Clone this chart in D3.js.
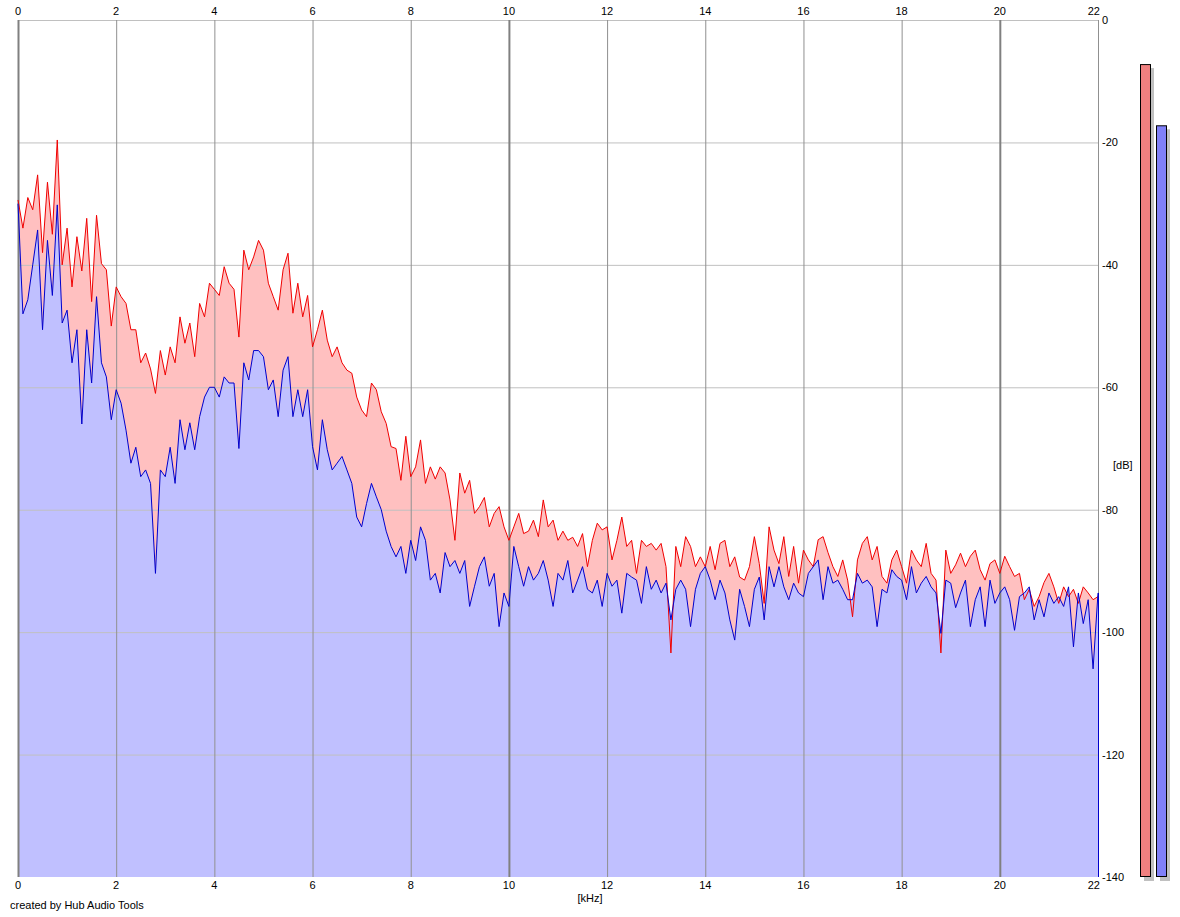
<!DOCTYPE html>
<html lang='en'>
<head>
  <meta charset='UTF-8'>
  <title>Spectrum</title>
  <script src='https://d3js.org/d3.v7.min.js'></script>
  <style>
    body { margin: 0; background: #fff; }
    #main { width: 1180px; height: 917px; }
    text { font-family: 'Liberation Sans', Arial, sans-serif; font-size: 11px; fill: #000; }
  </style>
</head>
<body>
<div id='main'></div>
<script>
  // frequency bins, kHz (one every 0.1 kHz)
  const freqs = d3.range(0, 221).map(i => i / 10)
  // left channel (red), dB
  const leftDb = [
    -29.4, -34, -29, -31, -25.3, -38, -26.5, -35, -19.6, -40,
    -34, -43.6, -35.4, -41, -32.4, -46, -31.9, -39.8, -40.8, -50,
    -43.6, -45.2, -46.3, -50.6, -50.6, -56, -54.4, -57, -61, -54,
    -58, -53.4, -56, -48.5, -52.8, -49.5, -55, -46.3, -48.5, -43,
    -44, -45, -40.3, -43, -44, -51.8, -37.6, -40.8, -38.7, -36,
    -37.6, -43, -45.2, -47.4, -40.8, -38.1, -47.9, -43, -48.5, -45,
    -53.4, -50.6, -47.4, -52.3, -55, -53.4, -56, -57.2, -57.7, -61.6,
    -63.7, -64.8, -59.3, -60.4, -64, -65.9, -69.7, -70, -75.2, -68,
    -74.6, -73, -68.6, -75.7, -73, -75, -73, -74, -78.4, -85,
    -74, -77.3, -75.2, -80.6, -79.5, -78, -82.8, -80.6, -79.5, -82.8,
    -85, -82.8, -80.6, -83.9, -83.5, -81.7, -84.4, -78.4, -82.8, -81.7,
    -85, -83.5, -85, -84.5, -86, -83.9, -89.3, -85, -82.2, -83.3,
    -82.8, -88.2, -85, -81.2, -86, -85, -90.4, -85, -86, -85.5,
    -86.6, -85.5, -89.3, -103.4, -86, -89.3, -84.4, -86, -89.3, -87.7,
    -89.3, -86, -89.8, -85.5, -85, -89.3, -87.7, -91, -91.5, -89.3,
    -84.4, -88.8, -95.3, -82.8, -86.6, -88.8, -84.4, -90.9, -86, -92,
    -86.6, -88.2, -89.3, -84.9, -84.4, -87, -89.3, -90.9, -88.2, -91.5,
    -97.5, -88.2, -85.5, -84.4, -88.2, -86, -90.9, -92, -88.2, -86.6,
    -89.3, -92, -86.6, -88.2, -89.3, -85.5, -90.4, -91.5, -103.4, -86.6,
    -90.4, -89, -87.1, -89.3, -87.6, -86.6, -89.8, -91.5, -88.8, -88.2,
    -90.4, -87.6, -89.3, -90.9, -90.4, -94.7, -93, -95.8, -94.2, -91.9,
    -90.4, -92.6, -95.3, -92.6, -94.2, -93, -95.3, -92.6, -93.6, -94.7,
    -94.2
  ]
  // right channel (blue), dB
  const rightDb = [
    -30, -48, -45.7, -40, -34.3, -50.6, -36, -45, -30.2, -49.5,
    -47.4, -56, -50.6, -66, -50.6, -59.3, -45.2, -56, -58.3, -65.3,
    -60.4, -62.6, -67, -72.4, -69.8, -74.6, -73.5, -75.7, -90.4, -73.5,
    -74.6, -69.8, -75.7, -65.3, -70.2, -65.8, -70.2, -64.8, -61.6, -60,
    -60, -61.6, -58.3, -59.3, -59.3, -70, -56, -58.8, -54, -54,
    -55, -60.4, -58.8, -64.8, -57.2, -55, -64.8, -60.4, -64.8, -60.4,
    -69.7, -73.5, -65.3, -70.2, -73.5, -72.4, -71.3, -73.5, -75.7, -81.2,
    -82.8, -79, -75.7, -77.9, -80, -83.5, -86, -87.7, -86, -90.4,
    -85, -88.3, -82.8, -85, -91.5, -90.4, -93.6, -87, -89.3, -88.3,
    -90.4, -88.3, -95.8, -92.5, -89.3, -87.7, -92.5, -90.4, -99.1, -93.6,
    -95.8, -86, -89.3, -92.5, -89.3, -91.5, -90.4, -88.3, -91.5, -95.8,
    -90.4, -91.5, -88.3, -93.6, -91.5, -89.3, -93, -93.6, -91.5, -95.8,
    -90.4, -92.5, -91.5, -96.9, -90.4, -91, -91.5, -95.3, -89.3, -93,
    -91.5, -93.6, -92, -98, -93, -91.5, -93, -99.1, -93, -90.4,
    -89.3, -91.5, -94.7, -91.5, -93.6, -98, -101.3, -93, -95.8, -99.1,
    -93, -91, -98, -89.3, -92.6, -89.3, -92.6, -94.7, -92, -93.6,
    -94.2, -90.4, -89.3, -88.2, -94.7, -89.3, -92, -91.5, -93, -94.7,
    -94.7, -90.4, -92, -91.5, -92.6, -99.1, -93, -93.6, -89.8, -90.9,
    -91.5, -94.7, -89.3, -93.6, -92, -90.9, -92.6, -93.6, -100.2, -91.5,
    -92, -96, -93.6, -91.5, -99.1, -94.7, -92.6, -99.1, -91.5, -95.3,
    -93.6, -92.6, -94.7, -99.7, -94.2, -93.6, -92.6, -98, -94.7, -97.5,
    -93.6, -95.3, -94.2, -95.8, -92.6, -102.4, -93.6, -98.6, -94.7, -106,
    -93.6
  ]
  // level meters (left, right), dB
  const meterDb = [-7.2, -17.2]
  const xTicks = d3.range(0, 23, 2)
  const yTicks = d3.range(0, -141, -20)

  let svg = d3.select('#main').append('svg')
    .attr('width', 1180)
    .attr('height', 917)

  // plot box
  let x = d3.scaleLinear().domain([0, 22]).range([18, 1098])
  let y = d3.scaleLinear().domain([0, -140]).range([20, 877])

  let data = freqs.map((f, i) => ({ f: f, l: leftDb[i], r: rightDb[i] }))

  let areaL = d3.area().x(d => x(d.f)).y0(y(-140)).y1(d => y(d.l))
  let areaR = d3.area().x(d => x(d.f)).y0(y(-140)).y1(d => y(d.r))
  let lineL = d3.line().x(d => x(d.f)).y(d => y(d.l))
  let lineR = d3.line().x(d => x(d.f)).y(d => y(d.r))

  // fills
  svg.append('path').attr('d', areaL(data)).attr('fill', '#ffc0c0')
  svg.append('path').attr('d', areaR(data)).attr('fill', '#c0c0ff')

  // grid
  let grid = svg.append('g')
  grid.selectAll('.hg')
    .data(yTicks.slice(0, -1))
    .enter().append('line')
    .attr('x1', x(0)).attr('x2', x(22))
    .attr('y1', d => y(d) + 0.5).attr('y2', d => y(d) + 0.5)
    .attr('stroke', '#c0c0c0')
  grid.selectAll('.vg')
    .data(xTicks)
    .enter().append('line')
    .attr('x1', d => x(d) + 0.5).attr('x2', d => x(d) + 0.5)
    .attr('y1', y(0)).attr('y2', y(-140))
    .attr('stroke', d => d % 10 === 0 ? '#808080' : '#909090')
    .attr('stroke-width', d => d % 10 === 0 && d < 22 ? 2 : 1)

  // spectrum lines
  svg.append('path').attr('d', lineL(data))
    .attr('fill', 'none').attr('stroke', '#f00000').attr('stroke-width', 1)
  svg.append('path').attr('d', lineR(data))
    .attr('fill', 'none').attr('stroke', '#0000cc').attr('stroke-width', 1)
  // right edge of blue fill
  svg.append('line')
    .attr('x1', x(22) + 0.5).attr('x2', x(22) + 0.5)
    .attr('y1', y(rightDb[rightDb.length - 1])).attr('y2', y(-140))
    .attr('stroke', '#0000cc')

  // x labels top and bottom
  let xl = svg.append('g')
  xTicks.forEach(t => {
    let last = t === 22
    xl.append('text').attr('x', last ? x(t) + 2 : x(t)).attr('y', 15)
      .attr('text-anchor', last ? 'end' : 'middle').text(t)
    xl.append('text').attr('x', last ? x(t) + 2 : x(t)).attr('y', 889)
      .attr('text-anchor', last ? 'end' : 'middle').text(t)
  })
  // y labels right
  yTicks.forEach(t => {
    svg.append('text').attr('x', 1102).attr('y', y(t) + 4).text(t)
  })
  svg.append('text').attr('x', 1113).attr('y', 469).text('[dB]')
  svg.append('text').attr('x', 590).attr('y', 902).attr('text-anchor', 'middle').text('[kHz]')
  svg.append('text').attr('x', 10).attr('y', 909).text('created by Hub Audio Tools')

  // level meters
  let mx = [1140, 1156]
  let mColor = ['#f08080', '#8080f8']
  meterDb.forEach((v, i) => {
    svg.append('rect')
      .attr('x', mx[i] + 4).attr('y', y(v) + 4)
      .attr('width', 10).attr('height', y(-140) - y(v))
      .attr('fill', '#c0c0c0')
    svg.append('rect')
      .attr('x', mx[i] + 0.5).attr('y', y(v) + 0.5)
      .attr('width', 10).attr('height', y(-140) - y(v) - 1)
      .attr('fill', mColor[i]).attr('stroke', '#000')
  })
</script>
</body>
</html>
